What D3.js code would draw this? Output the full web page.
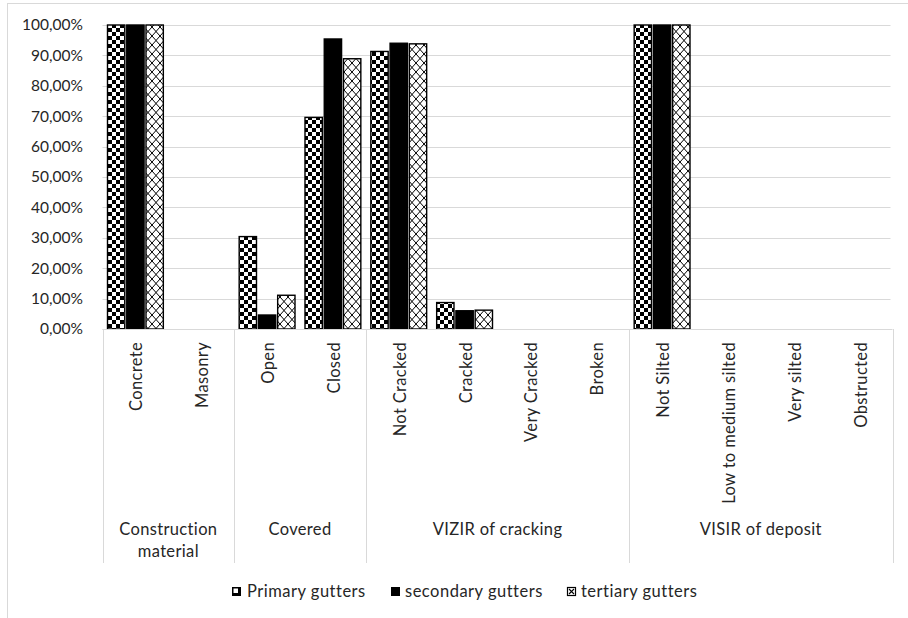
<!DOCTYPE html>
<html>
<head>
<meta charset="utf-8">
<script src="https://cdn.jsdelivr.net/npm/d3@7/dist/d3.min.js"></script>
<style>
  html, body { margin: 0; padding: 0; background: #fff; }
  svg { display: block; }
  text { font-family: Lato, "Open Sans", sans-serif; fill: #262626; }
</style>
</head>
<body>
<svg id="chart" width="908" height="618"></svg>
<script>
// ---- data ----
const categories = ["Concrete", "Masonry", "Open", "Closed", "Not Cracked", "Cracked", "Very Cracked", "Broken",
                    "Not Silted", "Low to medium silted", "Very silted", "Obstructed"];
const groups = [
  { name: ["Construction", "material"], size: 2 },
  { name: ["Covered"], size: 2 },
  { name: ["VIZIR of cracking"], size: 4 },
  { name: ["VISIR of deposit"], size: 4 }
];
const seriesNames = ["Primary gutters", "secondary gutters", "tertiary gutters"];
const primary   = [100, 0, 30.4, 69.6, 91.3, 8.7, 0, 0, 100, 0, 0, 0];
const secondary = [100, 0, 4.6, 95.4, 94.0, 6.0, 0, 0, 100, 0, 0, 0];
const tertiary  = [100, 0, 11.1, 88.9, 93.8, 6.2, 0, 0, 100, 0, 0, 0];
const yTickValues = [0, 10, 20, 30, 40, 50, 60, 70, 80, 90, 100];
const yTickLabels = ["0,00%", "10,00%", "20,00%", "30,00%", "40,00%", "50,00%", "60,00%", "70,00%", "80,00%", "90,00%", "100,00%"];

const seriesValues = [primary, secondary, tertiary];

// ---- layout ----
const svg = d3.select("#chart");
const plotLeft = 102.5, plotRight = 892.5, plotTop = 25, plotBottom = 329;
const labelFont = 16.5, labelSpacing = 0.35;

const defs = svg.append("defs");
// checkerboard
const p1 = defs.append("pattern").attr("id", "pat-checker").attr("patternUnits", "userSpaceOnUse")
  .attr("width", 8).attr("height", 8);
p1.append("rect").attr("width", 8).attr("height", 8).attr("fill", "#fff");
p1.append("rect").attr("width", 4).attr("height", 4).attr("fill", "#000");
p1.append("rect").attr("x", 4).attr("y", 4).attr("width", 4).attr("height", 4).attr("fill", "#000");
// outlined diamond
const p3 = defs.append("pattern").attr("id", "pat-diamond").attr("patternUnits", "userSpaceOnUse")
  .attr("width", 8).attr("height", 9);
p3.append("rect").attr("width", 8).attr("height", 9).attr("fill", "#fff");
p3.append("path").attr("d", "M0,0L8,9M8,0L0,9").attr("stroke", "#000").attr("stroke-width", 1);

const fills = ["url(#pat-checker)", "#000", "url(#pat-diamond)"];

const x0 = d3.scaleBand().domain(categories).range([plotLeft, plotRight]).padding(0);
const x1 = d3.scaleBand().domain(seriesNames).range([5, x0.bandwidth() - 5]).paddingInner(0.1);
const y = d3.scaleLinear().domain([0, 100]).range([plotBottom, plotTop]);

// chart frame (partially visible in reference)
svg.append("line").attr("x1", 7.5).attr("x2", 7.5).attr("y1", 3).attr("y2", 618).attr("stroke", "#d9d9d9");
svg.append("line").attr("x1", 7.5).attr("x2", 908).attr("y1", 3.5).attr("y2", 3.5).attr("stroke", "#d9d9d9");

// gridlines
svg.append("g").selectAll("line").data(yTickValues).join("line")
  .attr("x1", plotLeft).attr("x2", plotRight - 2)
  .attr("y1", d => Math.round(y(d)) + 0.5).attr("y2", d => Math.round(y(d)) + 0.5)
  .attr("stroke", "#d9d9d9").attr("stroke-width", 1);

// y labels
const yAxis = d3.axisLeft(y).tickValues(yTickValues).tickFormat((d, i) => yTickLabels[i]).tickSize(0).tickPadding(0);
const yg = svg.append("g").attr("transform", `translate(${83},0)`).call(yAxis);
yg.select(".domain").remove();
yg.selectAll("text").attr("font-size", 15.5).attr("fill", "#333").attr("font-family", "Lato, sans-serif");

// bars
const barG = svg.append("g");
seriesValues.forEach((vals, si) => {
  barG.append("g").selectAll("rect").data(vals.map((v, i) => ({ v, c: categories[i] })).filter(d => d.v > 0))
    .join("rect")
    .attr("x", d => x0(d.c) + x1(seriesNames[si]))
    .attr("width", x1.bandwidth())
    .attr("y", d => y(d.v))
    .attr("height", d => y(0) - y(d.v))
    .attr("fill", fills[si])
    .attr("stroke", "#000").attr("stroke-width", 1.4);
});

// x axis line
svg.append("line").attr("x1", plotLeft).attr("x2", plotRight).attr("y1", plotBottom + 0.5).attr("y2", plotBottom + 0.5)
  .attr("stroke", "#d9d9d9");

// category labels
svg.append("g").selectAll("text").data(categories).join("text")
  .attr("transform", d => `translate(${x0(d) + x0.bandwidth() / 2 + 1},342) rotate(-90)`)
  .attr("text-anchor", "end").attr("dominant-baseline", "central")
  .attr("font-size", labelFont).attr("letter-spacing", labelSpacing).text(d => d);

// group separators and labels
let idx = 0;
const bounds = [0];
groups.forEach(g => { idx += g.size; bounds.push(idx); });
svg.append("g").selectAll("line").data(bounds).join("line")
  .attr("x1", b => Math.round(b === categories.length ? plotRight : x0(categories[b])) + 0.5)
  .attr("x2", b => Math.round(b === categories.length ? plotRight : x0(categories[b])) + 0.5)
  .attr("y1", plotBottom).attr("y2", 563).attr("stroke", "#d9d9d9");

groups.forEach((g, gi) => {
  const xa = x0(categories[bounds[gi]]);
  const xb = bounds[gi + 1] === categories.length ? plotRight : x0(categories[bounds[gi + 1]]);
  const t = svg.append("text").attr("x", (xa + xb) / 2).attr("y", 535).attr("text-anchor", "middle")
    .attr("font-size", labelFont).attr("letter-spacing", labelSpacing);
  g.name.forEach((line, li) => {
    t.append("tspan").attr("x", (xa + xb) / 2).attr("dy", li === 0 ? 0 : 22).text(line);
  });
});

// legend
const legendX = [232, 391, 567];
const lg = svg.append("g");
seriesNames.forEach((s, i) => {
  const gx = legendX[i], gy = 587;
  if (i === 0) {
    lg.append("rect").attr("x", gx).attr("y", gy).attr("width", 9).attr("height", 9).attr("fill", "#000");
    lg.append("rect").attr("x", gx + 1.5).attr("y", gy + 1.5).attr("width", 4.5).attr("height", 4.5).attr("fill", "#fff");
  } else if (i === 1) {
    lg.append("rect").attr("x", gx).attr("y", gy).attr("width", 9).attr("height", 9).attr("fill", "#000");
  } else {
    lg.append("rect").attr("x", gx + 0.5).attr("y", gy + 0.5).attr("width", 8).attr("height", 8)
      .attr("fill", "#fff").attr("stroke", "#000").attr("stroke-width", 1.2);
    lg.append("path").attr("d", `M${gx + 2},${gy + 2}L${gx + 7},${gy + 7}M${gx + 7},${gy + 2}L${gx + 2},${gy + 7}`)
      .attr("stroke", "#000").attr("stroke-width", 1.1);
  }
  lg.append("text").attr("x", gx + (i === 0 ? 15 : 14)).attr("y", 597).attr("font-size", labelFont)
    .attr("letter-spacing", 0.5).text(s);
});
</script>
</body>
</html>
